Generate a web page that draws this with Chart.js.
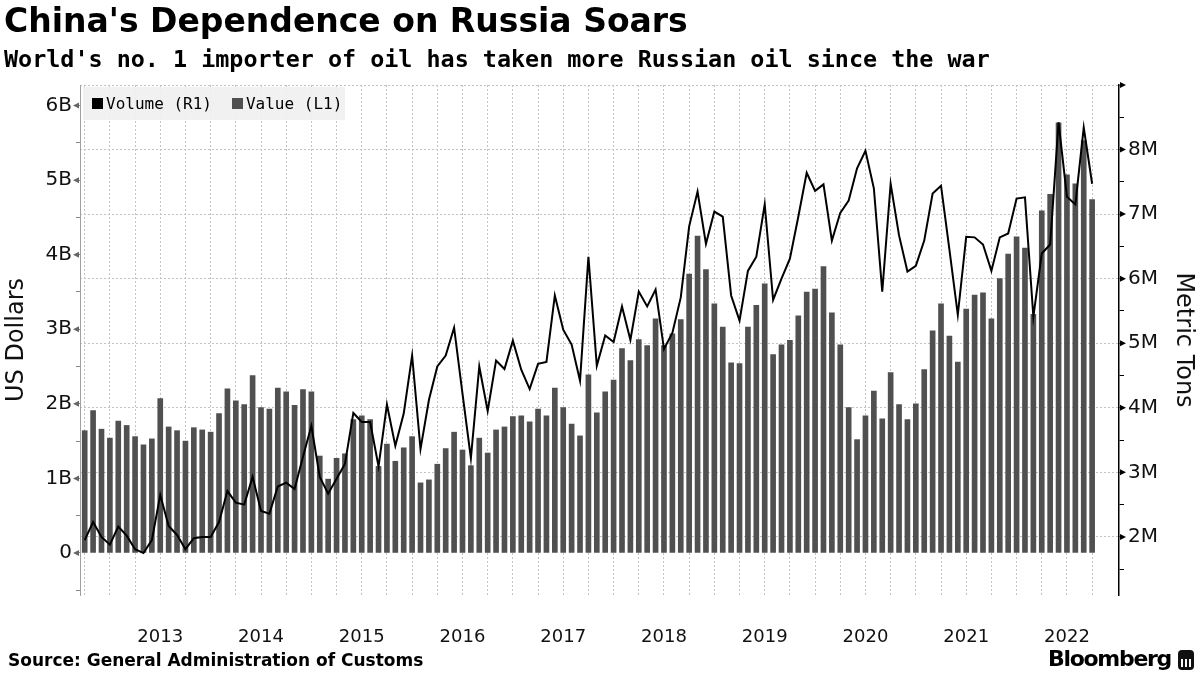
<!DOCTYPE html>
<html>
<head>
<meta charset="utf-8">
<title>China's Dependence on Russia Soars</title>
<script src="https://cdn.jsdelivr.net/npm/chart.js@4.4.1/dist/chart.umd.min.js"></script>
<style>
  body { margin: 0; background: #fff; }
  #page { position: relative; width: 1200px; height: 675px; overflow: hidden; font-family: 'DejaVu Sans', sans-serif; color: #000; }
  #chart { position: absolute; left: 0; top: 0; }
  .title { position: absolute; left: 4px; top: 1px; font: bold 33px 'DejaVu Sans'; white-space: nowrap; }
  .subtitle { position: absolute; left: 4px; top: 45px; font: bold 23.4px 'DejaVu Sans Mono'; white-space: nowrap; }
  .legend { position: absolute; left: 83px; top: 87px; width: 262px; height: 33px; background: rgba(240,240,240,0.92);
            font: 16px 'DejaVu Sans Mono'; display: flex; align-items: center; white-space: nowrap; }
  .legend .sw { display: inline-block; width: 11px; height: 11px; margin: 0 3px 0 9px; }
  .legend .sw.second { margin-left: 20px; }
  .source { position: absolute; left: 8px; top: 650px; font: bold 17px 'DejaVu Sans'; white-space: nowrap; }
  .logo { position: absolute; left: 1048px; top: 646px; font: bold 22px 'DejaVu Sans'; letter-spacing: -1.3px; white-space: nowrap; }
  .logo-icon { position: absolute; left: 1178px; top: 650px; width: 16px; height: 20px; border-radius: 4px; background: #111;
               background-image: linear-gradient(90deg, transparent 3px, #fff 3px, #fff 5px, transparent 5px, transparent 7px, #fff 7px, #fff 9px, transparent 9px, transparent 11px, #fff 11px, #fff 13px, transparent 13px); background-size: 16px 8px; background-repeat: no-repeat; background-position: 0 9px; }
</style>
</head>
<body>
<div id="page">
  <canvas id="chart" width="1200" height="675"></canvas>
  <div class="title">China's Dependence on Russia Soars</div>
  <div class="subtitle">World's no. 1 importer of oil has taken more Russian oil since the war</div>
  <div class="legend" id="legend"></div>
  <div class="source">Source: General Administration of Customs</div>
  <div class="logo">Bloomberg</div>
  <div class="logo-icon"></div>
</div>
<script>
// monthly data, Sep 2012 - Sep 2022
const firstYear = 2012, firstMonth = 9;
const yearLabels = ['2013', '2014', '2015', '2016', '2017', '2018', '2019', '2020', '2021', '2022'];

// value of imports, billions of US dollars (left axis)
const valueUSD = [
  1.64, 1.91, 1.66, 1.54, 1.77, 1.71, 1.56, 1.45, 1.53, 2.07,
  1.69, 1.64, 1.50, 1.68, 1.65, 1.62, 1.87, 2.20, 2.04, 1.99,
  2.38, 1.95, 1.93, 2.21, 2.16, 1.98, 2.19, 2.16, 1.30, 0.99,
  1.27, 1.33, 1.79, 1.84, 1.79, 1.16, 1.46, 1.23, 1.41, 1.56,
  0.94, 0.98, 1.19, 1.40, 1.62, 1.38, 1.17, 1.54, 1.34, 1.65,
  1.69, 1.83, 1.84, 1.76, 1.93, 1.84, 2.21, 1.95, 1.73, 1.57,
  2.39, 1.88, 2.16, 2.32, 2.74, 2.58, 2.86, 2.78, 3.14, 2.78,
  2.94, 3.13, 3.74, 4.25, 3.80, 3.34, 3.03, 2.55, 2.54, 3.03,
  3.32, 3.61, 2.66, 2.79, 2.85, 3.18, 3.50, 3.54, 3.84, 3.22,
  2.79, 1.95, 1.52, 1.84, 2.17, 1.80, 2.42, 1.99, 1.79, 2.00,
  2.46, 2.98, 3.34, 2.91, 2.56, 3.27, 3.46, 3.49, 3.14, 3.68,
  4.01, 4.24, 4.09, 3.20, 4.59, 4.81, 5.77, 5.07, 4.95, 5.53,
  4.74
];

// volume of imports, millions of metric tons (right axis)
const volumeTons = [
  1.95, 2.23, 2.00, 1.88, 2.16, 2.02, 1.81, 1.75, 1.95, 2.65,
  2.17, 2.03, 1.81, 1.98, 2.00, 2.00, 2.23, 2.71, 2.53, 2.50,
  2.93, 2.40, 2.36, 2.78, 2.84, 2.74, 3.24, 3.72, 2.93, 2.67,
  2.90, 3.13, 3.92, 3.78, 3.78, 3.09, 4.05, 3.41, 3.91, 4.81,
  3.36, 4.12, 4.64, 4.81, 5.24, 4.22, 3.22, 4.64, 3.95, 4.73,
  4.60, 5.04, 4.59, 4.29, 4.68, 4.71, 5.74, 5.21, 4.98, 4.42,
  6.34, 4.65, 5.12, 5.02, 5.57, 5.05, 5.80, 5.57, 5.83, 4.91,
  5.16, 5.71, 6.81, 7.35, 6.54, 7.04, 6.96, 5.74, 5.35, 6.12,
  6.34, 7.15, 5.67, 6.00, 6.31, 6.96, 7.64, 7.36, 7.46, 6.59,
  7.02, 7.21, 7.71, 7.98, 7.40, 5.80, 7.47, 6.67, 6.11, 6.20,
  6.59, 7.32, 7.44, 6.45, 5.44, 6.65, 6.64, 6.53, 6.12, 6.64,
  6.70, 7.24, 7.26, 5.41, 6.39, 6.53, 8.42, 7.27, 7.15, 8.34,
  7.47
];

const months = valueUSD.map((_, i) => {
  const m = firstMonth - 1 + i;
  return (firstYear + Math.floor(m / 12)) + '-' + String(m % 12 + 1).padStart(2, '0');
});

const leftTicks = [-0.5, 0, 0.5, 1, 1.5, 2, 2.5, 3, 3.5, 4, 4.5, 5, 5.5, 6];
const rightTicks = [1.5, 2, 2.5, 3, 3.5, 4, 4.5, 5, 5.5, 6, 6.5, 7, 7.5, 8, 8.5, 9];

const BAR_COLOR = '#505050';
const tickFont = { family: "'DejaVu Sans', sans-serif", size: 20 };

// month index of each quarter end, used for the dashed vertical grid
const quarterTicks = months.map((m, i) => i).filter(i => i % 3 === 0);
const yearAtTick = v => {
  const m = months[v];
  if (!m || !m.endsWith('-06')) return '';
  return yearLabels.indexOf(m.slice(0, 4)) >= 0 ? m.slice(0, 4) : '';
};

// little arrow heads next to the labelled ticks, as on the original
const tickArrows = {
  id: 'tickArrows',
  afterDraw(chart) {
    const { ctx } = chart;
    const yl = chart.scales.y, yr = chart.scales.y1;
    ctx.save();
    ctx.fillStyle = '#666';
    yl.ticks.forEach(t => {
      if (!Number.isInteger(t.value)) return;
      const py = yl.getPixelForValue(t.value);
      ctx.beginPath();
      ctx.moveTo(yl.right - 7, py);
      ctx.lineTo(yl.right - 1, py - 3);
      ctx.lineTo(yl.right - 1, py + 3);
      ctx.closePath();
      ctx.fill();
    });
    ctx.fillStyle = '#000';
    yr.ticks.forEach(t => {
      if (!Number.isInteger(t.value)) return;
      const py = yr.getPixelForValue(t.value);
      ctx.beginPath();
      ctx.moveTo(yr.left + 7, py);
      ctx.lineTo(yr.left + 1, py - 3);
      ctx.lineTo(yr.left + 1, py + 3);
      ctx.closePath();
      ctx.fill();
    });
    ctx.restore();
  }
};

const chart = new Chart(document.getElementById('chart'), {
  type: 'bar',
  data: {
    datasets: [
      {
        type: 'line',
        label: 'Volume (R1)',
        data: volumeTons.map((v, i) => ({ x: i, y: v })),
        yAxisID: 'y1',
        borderColor: '#000',
        backgroundColor: '#000',
        borderWidth: 2,
        pointRadius: 0,
        tension: 0
      },
      {
        label: 'Value (L1)',
        data: valueUSD.map((v, i) => ({ x: i, y: v })),
        yAxisID: 'y',
        backgroundColor: BAR_COLOR,
        barThickness: 5
      }
    ]
  },
  options: {
    responsive: false,
    animation: false,
    devicePixelRatio: 1,
    layout: { padding: { top: 85, left: 0, right: 0, bottom: 0 } },
    plugins: { legend: { display: false }, tooltip: { enabled: false } },
    scales: {
      x: {
        type: 'linear',
        min: -0.56,
        max: 123.2,
        offset: false,
        afterBuildTicks: s => { s.ticks = quarterTicks.map(v => ({ value: v })); },
        afterFit: s => { s.height = 80; },
        ticks: {
          autoSkip: false, maxRotation: 0, minRotation: 0, padding: 32,
          font: { family: "'DejaVu Sans', sans-serif", size: 18 }, color: '#111',
          callback: v => yearAtTick(v)
        },
        grid: { color: '#c2c2c2', drawTicks: false, offset: false },
        border: { display: false, dash: [2, 2] }
      },
      y: {
        position: 'left',
        min: -0.564,
        max: 6.276,
        afterBuildTicks: s => { s.ticks = leftTicks.map(v => ({ value: v })); },
        afterFit: s => { s.width = 80; },
        ticks: {
          padding: 4, font: tickFont, color: '#111',
          callback: v => Number.isInteger(v) ? (v === 0 ? '0' : v + 'B') : ''
        },
        grid: { drawOnChartArea: false, tickLength: 4, tickColor: '#888', color: '#888' },
        border: { color: '#a0a0a0', width: 1 },
        title: { display: true, text: 'US Dollars', font: { family: "'DejaVu Sans', sans-serif", size: 24 }, color: '#111', padding: { top: 2, bottom: 0 } }
      },
      y1: {
        position: 'right',
        min: 1.1,
        max: 9.0,
        afterBuildTicks: s => { s.ticks = rightTicks.map(v => ({ value: v })); },
        afterFit: s => { s.width = 81; },
        ticks: {
          padding: 4, font: tickFont, color: '#111',
          callback: v => (Number.isInteger(v) && v < 9) ? v + 'M' : ''
        },
        grid: {
          tickLength: 5, tickColor: '#000',
          color: c => Number.isInteger(c.tick && c.tick.value) ? '#c2c2c2' : 'rgba(0,0,0,0)'
        },
        border: { color: '#000', width: 1.5, dash: [2, 2] },
        title: { display: true, text: 'Metric Tons', font: { family: "'DejaVu Sans', sans-serif", size: 24 }, color: '#111', padding: { top: 2, bottom: 0 } }
      }
    }
  },
  plugins: [tickArrows]
});

// legend built from the datasets
const legend = document.getElementById('legend');
chart.data.datasets.forEach((ds, i) => {
  const sw = document.createElement('span');
  sw.className = 'sw' + (i > 0 ? ' second' : '');
  sw.style.background = i === 0 ? '#000' : BAR_COLOR;
  const txt = document.createElement('span');
  txt.textContent = ds.label;
  legend.appendChild(sw);
  legend.appendChild(txt);
});
</script>
</body>
</html>
